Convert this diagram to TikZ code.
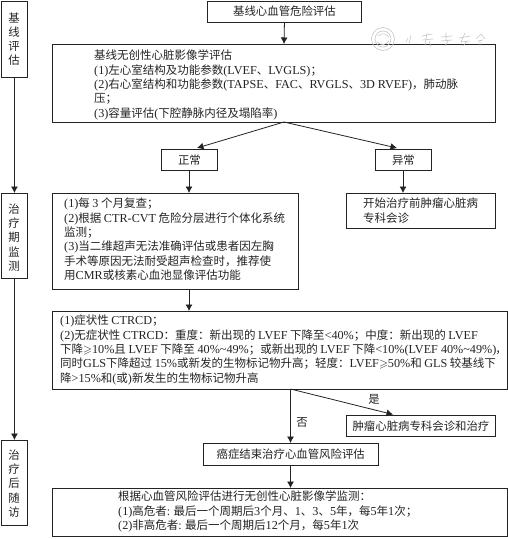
\documentclass[tikz,border=0pt]{standalone}
\usepackage{amssymb}
\usepackage{fontspec}
\setmainfont{Noto Sans CJK SC}
\newfontfamily\lat[Scale=1.06]{Liberation Serif}
\newcommand{\La}[1]{{\lat #1}}
\newcommand{\GE}{\ensuremath{\geqslant}}
\definecolor{ink}{RGB}{35,35,35}
\usetikzlibrary{arrows.meta,positioning}
\tikzset{
  fbox/.style={draw=ink,line width=0.9pt,inner sep=0pt,anchor=north west},
  txt/.style={anchor=north west,inner sep=0pt,align=left,text=ink,font=\fontsize{11.5}{14.3}\selectfont},
  lbl/.style={inner sep=0pt,text=ink,font=\fontsize{11.4}{14.2}\selectfont},
  conn/.style={draw=ink,line width=0.8pt,-{Latex[length=6.5pt,width=7pt]}},
  wm/.style={black!22,line width=0.6pt,line cap=round},
}
\begin{document}
\begin{tikzpicture}[x=1pt,y=-1pt]
\useasboundingbox (0,0) rectangle (508,539);
% boxes
\node[fbox,minimum width=26pt,minimum height=76pt] (b1) at (1,1) {};
\node[fbox,minimum width=26pt,minimum height=85pt] (b2) at (1,193) {};
\node[fbox,minimum width=26pt,minimum height=85pt] (b3) at (1,440) {};
\node[lbl,align=center] (t1) at (14,39) {基\\线\\评\\估};
\node[lbl,align=center] (t2) at (14,237.5) {治\\疗\\期\\监\\测};
\node[lbl,align=center] (t3) at (14,483.5) {治\\疗\\后\\随\\访};
\node[fbox,minimum width=154pt,minimum height=21pt,lbl] (top) at (207,0.5) {基线心血管危险评估};
\node[fbox,minimum width=443pt,minimum height=78pt] (base) at (52,44) {};
\node[txt] (baset) at (94,50) {基线无创性心脏影像学评估\\
\La{(1)}左心室结构及功能参数\La{(LVEF}、\La{LVGLS)}；\\
\La{(2)}右心室结构和功能参数\La{(TAPSE}、\La{FAC}、\La{RVGLS}、\La{3D RVEF)}，肺动脉\\
压；\\
\La{(3)}容量评估\La{(}下腔静脉内径及塌陷率\La{)}};
\node[fbox,lbl,minimum width=56pt,minimum height=21pt] (norm) at (161,149) {正常};
\node[fbox,lbl,minimum width=56pt,minimum height=21pt] (abn) at (375,149) {异常};
\node[fbox,minimum width=246pt,minimum height=96pt] (nb) at (52,193) {};
\node[txt] (nbt) at (64,198) {\La{(1)}每 \La{3} 个月复查；\\
\La{(2)}根据 \La{CTR-CVT} 危险分层进行个体化系统\\
监测；\\
\La{(3)}当二维超声无法准确评估或患者因左胸\\
手术等原因无法耐受超声检查时，推荐使\\
用\La{CMR}或核素心血池显像评估功能};
\node[fbox,minimum width=149pt,minimum height=35pt] (ab) at (346,193) {};
\node[txt] (abt) at (363,198) {开始治疗前肿瘤心脏病\\专科会诊};
\node[fbox,minimum width=455pt,minimum height=78pt] (big) at (52,311) {};
\node[txt] (bigt) at (60,315) {\La{(1)}症状性 \La{CTRCD}；\\
\La{(2)}无症状性 \La{CTRCD}：重度：新出现的 \La{LVEF} 下降至\La{<40\%}；中度：新出现的 \La{LVEF}\\
下降\GE\La{10\%}且 \La{LVEF} 下降至 \La{40\%\textasciitilde 49\%}；或新出现的 \La{LVEF} 下降\La{<10\%(LVEF 40\%\textasciitilde 49\%)}\hspace{-1pt}，\\
同时\La{GLS}下降超过 \La{15\%}或新发的生物标记物升高；轻度：\La{LVEF}\GE\La{50\%}和 \La{GLS} 较基线下\\
降\La{>15\%}和\La{(}或\La{)}新发生的生物标记物升高};
\node[fbox,minimum width=149pt,minimum height=21pt,lbl] (cons) at (346,415) {肿瘤心脏病专科会诊和治疗};
\node[fbox,minimum width=175.5pt,minimum height=22pt,lbl] (end) at (202.5,443) {癌症结束治疗心血管风险评估};
\node[fbox,minimum width=455pt,minimum height=48pt] (fu) at (52,488) {};
\node[txt] (fut) at (118,491) {根据心血管风险评估进行无创性心脏影像学监测：\\
\La{(1)}高危者\La{:} 最后一个周期后\La{3}个月、\La{1}、\La{3}、\La{5}年，每\La{5}年\La{1}次；\\
\La{(2)}非高危者\La{:} 最后一个周期后\La{12}个月，每\La{5}年\La{1}次};
\node[lbl] (no) at (302,422) {否};
\node[lbl] (yes) at (374,399) {是};
% connectors
\coordinate (bs) at (284,122);
\coordinate (bi) at (290.5,389);
\draw[conn] (b1.south) -- (b2.north);
\draw[conn] (b2.south) -- (b3.north);
\draw[conn] (top.south) -- (284,44);
\draw[conn] (bs) -- (197,148);
\draw[conn] (bs) -- (397,148);
\draw[conn] (189,170) -- (189,193);
\draw[conn] (403,170) -- (403,193);
\draw[conn] (189,289) -- (189,311);
\draw[conn] (bi) -- (290.5,443);
\draw[conn] (bi) -- (393,414.5);
\draw[conn] (end.south -| bi) -- (fu.north -| bi);
% watermark
\draw[wm] (383,39) circle (11.5pt);
\draw[wm] (383,39) circle (8pt);
\draw[wm] (378,36) .. controls (383,32) and (386,34) .. (389,37) (377,42) .. controls (381,46) and (386,45) .. (389,41);
\draw[wm] (406,42) -- (408,38) (411,35) -- (409,44);
\draw[wm] (422,36) -- (432,34) (427,33) -- (425,45) (423,40) -- (433,39) (429,41) -- (431,47);
\draw[wm] (441,37) -- (452,36) (446,33) -- (446,41) (441,41) -- (452,40) (448,41) -- (445,46);
\draw[wm] (459,38) -- (470,36) (465,33) -- (461,42) -- (469,41) (467,41) -- (463,46);
\draw[wm] (476,39) -- (481,34) -- (485,39) (478,41) -- (483,40) (480,41) -- (480,46);
\end{tikzpicture}
\end{document}
